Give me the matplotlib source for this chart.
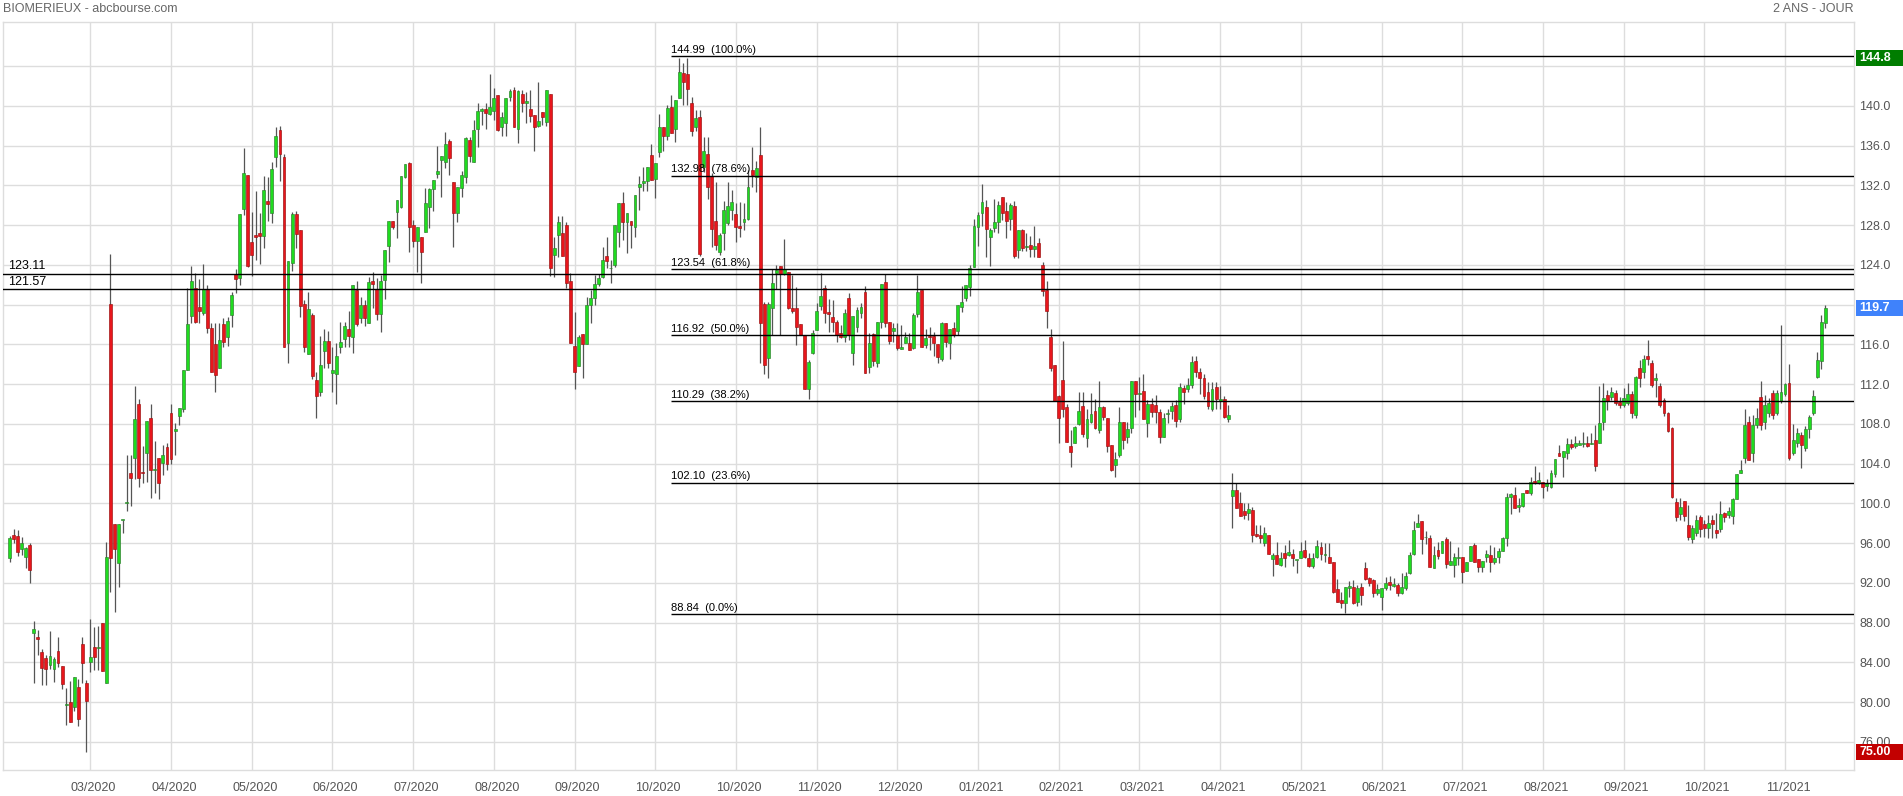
import numpy as np
import matplotlib
matplotlib.use("Agg")
import matplotlib.pyplot as plt
import matplotlib.transforms as mtransforms
from matplotlib.patches import Rectangle

plt.rcParams["font.family"] = ["Liberation Sans", "DejaVu Sans"]

# ── colour palette ────
GRID      = "#dddddd"
TEXT      = "#555555"
WICK      = "#555555"
UP        = "#1fdc1f"
UP_EDGE   = "#2e7d2e"
DOWN      = "#e8161c"
DOWN_EDGE = "#9c1010"
BOX_HIGH  = "#007d00"
BOX_LAST  = "#3f82fb"
BOX_LOW   = "#c20000"

# ── daily candles ────
opens = [
    94.54, 96.82, 96.72, 95.41, 94.64, 95.82, 86.93, 86.6, 85.02, 84.41, 83.74, 83.31, 85.15, 83.64, 79.72, 80.05,
    79.49, 81.5, 85.82, 81.97, 84.08, 85.52, 85.42, 88.0, 81.97, 120.03, 97.9, 94.04, 98.33, 100.01, 103.03, 104.6,
    109.97, 103.2, 105.04, 108.56, 103.36, 104.54, 104.03, 105.64, 109.06, 107.32, 108.83, 109.46, 113.42, 118.85, 121.64, 119.8,
    119.19, 121.54, 117.61, 116.04, 113.59, 118.05, 116.77, 118.95, 123.04, 122.64, 129.58, 133.03, 126.32, 126.99, 127.16, 126.93,
    130.42, 129.17, 134.81, 137.56, 134.87, 116.1, 124.14, 129.07, 127.5, 120.02, 114.99, 118.95, 112.41, 111.23, 115.36, 116.36,
    113.08, 112.98, 115.76, 116.5, 117.54, 116.76, 121.46, 118.61, 119.95, 118.11, 122.37, 121.53, 119.01, 122.47, 125.89, 128.4,
    129.34, 129.84, 132.86, 134.2, 128.0, 126.42, 126.76, 127.33, 129.84, 131.59, 133.1, 134.54, 134.37, 136.45, 132.29, 129.17,
    131.76, 132.87, 136.55, 134.37, 137.63, 139.47, 139.67, 139.17, 139.5, 141.08, 137.83, 138.3, 140.85, 141.58, 137.66, 141.15,
    140.31, 139.67, 139.07, 138.0, 139.34, 138.4, 141.18, 124.98, 126.99, 127.16, 128.0, 122.37, 115.83, 113.85, 117.04, 116.0,
    119.95, 120.69, 122.07, 122.81, 124.92, 123.64, 123.98, 127.26, 130.18, 128.34, 128.4, 127.83, 131.86, 132.19, 132.46, 135.04,
    132.63, 135.31, 137.9, 136.99, 139.91, 137.66, 140.75, 143.26, 143.19, 140.24, 137.83, 138.84, 133.88, 135.2, 132.9, 128.4,
    125.32, 127.23, 128.24, 129.51, 129.11, 127.9, 128.34, 128.6, 133.54, 132.8, 135.05, 120.06, 114.59, 119.69, 123.21, 123.88,
    123.04, 123.31, 119.62, 119.62, 118.05, 116.94, 111.47, 115.09, 117.44, 119.89, 121.7, 119.22, 118.78, 118.28, 117.1, 116.77,
    120.62, 115.09, 117.78, 119.12, 121.23, 113.75, 117.0, 114.08, 118.21, 122.3, 118.21, 117.34, 116.94, 115.53, 116.17, 116.17,
    115.6, 119.02, 121.47, 115.93, 116.87, 116.84, 116.03, 114.49, 118.11, 116.1, 117.61, 117.37, 119.79, 120.63, 121.8, 123.81,
    127.84, 129.25, 129.78, 126.76, 127.74, 128.34, 130.79, 129.41, 128.57, 129.92, 125.49, 127.5, 125.82, 125.99, 125.59, 126.16,
    123.98, 121.47, 116.7, 113.92, 110.8, 112.41, 109.66, 105.77, 106.11, 108.0, 109.79, 106.54, 108.22, 109.33, 107.38, 109.66,
    108.56, 105.87, 103.86, 104.87, 108.22, 106.65, 107.55, 112.31, 110.97, 111.34, 108.05, 110.0, 109.9, 109.16, 106.64, 108.96,
    109.33, 109.9, 108.49, 111.57, 111.47, 111.9, 114.3, 113.2, 112.6, 111.17, 109.49, 111.67, 110.33, 110.47, 108.49, 100.77,
    101.34, 100.0, 99.23, 98.99, 99.33, 96.92, 96.82, 95.98, 96.82, 94.37, 94.8, 93.8, 94.97, 94.8, 94.87, 94.3,
    94.47, 95.31, 94.47, 93.7, 94.57, 95.64, 94.8, 94.64, 94.07, 91.35, 90.28, 89.94, 91.52, 91.62, 90.11, 91.55,
    93.46, 92.46, 92.29, 91.02, 90.61, 91.45, 92.12, 91.68, 91.78, 91.0, 91.45, 92.96, 94.9, 97.65, 98.22, 96.58,
    96.48, 93.46, 95.31, 95.04, 96.38, 93.8, 93.8, 94.47, 94.57, 93.23, 94.23, 95.81, 94.37, 93.56, 94.57, 94.8,
    94.07, 94.64, 95.24, 96.48, 100.67, 100.84, 99.6, 99.73, 101.34, 101.07, 102.25, 102.01, 102.18, 101.74, 101.68, 102.96,
    105.1, 104.63, 105.1, 105.97, 105.81, 105.87, 105.97, 106.11, 105.97, 106.38, 106.11, 108.22, 110.9, 110.73, 111.14, 110.23,
    109.9, 110.1, 111.0, 108.9, 113.59, 113.25, 114.86, 114.09, 112.41, 111.8, 110.4, 109.06, 107.62, 100.11, 98.9, 100.24,
    97.82, 96.38, 97.05, 98.6, 97.89, 97.56, 98.33, 97.32, 97.39, 99.07, 98.83, 98.76, 100.44, 103.02, 104.6, 108.15,
    105.1, 107.88, 110.67, 108.22, 109.06, 111.07, 109.13, 110.3, 111.0, 112.07, 105.03, 106.11, 106.88, 105.54, 107.45, 109.13,
    112.75, 114.32, 118.18,
]
highs = [
    96.7, 97.39, 97.32, 96.59, 95.6, 96.05, 88.17, 87.27, 85.32, 84.75, 87.2, 84.58, 86.59, 83.64, 81.4, 82.17,
    82.5, 82.3, 86.59, 82.23, 88.34, 87.6, 87.67, 88.0, 96.15, 125.09, 97.9, 97.9, 98.33, 104.87, 104.87, 111.81,
    110.47, 105.78, 108.29, 109.97, 106.28, 104.54, 105.88, 106.04, 109.97, 108.12, 109.56, 113.42, 121.7, 123.88, 123.15, 122.54,
    124.09, 121.97, 118.12, 118.12, 118.12, 118.62, 118.79, 121.3, 123.54, 129.07, 135.71, 133.03, 129.34, 131.42, 129.24, 132.93,
    132.86, 134.37, 137.89, 137.96, 135.11, 124.38, 129.34, 129.41, 127.5, 120.46, 121.23, 119.18, 113.25, 116.83, 117.5, 117.34,
    115.69, 116.1, 118.28, 118.28, 119.35, 121.93, 122.37, 120.72, 120.46, 122.8, 123.27, 122.64, 122.97, 125.49, 128.4, 128.4,
    130.51, 132.93, 134.1, 134.37, 128.5, 127.77, 126.76, 131.76, 131.76, 132.53, 135.95, 134.94, 137.39, 136.65, 132.29, 131.86,
    133.43, 136.9, 136.89, 138.57, 140.24, 139.8, 140.24, 143.19, 141.75, 141.08, 139.4, 140.81, 141.65, 141.85, 141.58, 141.58,
    141.42, 141.58, 139.07, 142.35, 139.34, 141.58, 141.18, 126.83, 128.95, 128.95, 128.33, 123.14, 119.28, 116.94, 117.04, 120.79,
    121.47, 122.97, 123.07, 125.82, 126.83, 124.48, 128.0, 130.18, 131.29, 129.17, 128.4, 131.02, 132.96, 133.87, 133.87, 136.12,
    134.2, 139.13, 137.9, 140.07, 141.08, 140.58, 144.8, 144.27, 144.8, 140.92, 139.58, 139.58, 136.9, 136.9, 133.2, 132.37,
    127.2, 130.45, 132.36, 131.52, 130.18, 130.35, 130.25, 133.5, 135.82, 134.4, 137.83, 120.29, 120.29, 123.55, 123.98, 123.88,
    126.56, 123.31, 122.97, 121.8, 118.05, 116.94, 114.42, 117.44, 120.12, 123.14, 121.97, 120.53, 120.46, 118.44, 117.94, 119.52,
    121.13, 118.88, 119.79, 120.12, 121.87, 117.17, 117.17, 118.21, 122.04, 123.07, 118.21, 118.11, 118.18, 117.94, 117.27, 117.17,
    119.12, 122.97, 121.47, 117.54, 117.71, 117.27, 116.03, 118.21, 118.11, 117.51, 118.21, 119.96, 121.87, 121.97, 123.98, 128.57,
    129.31, 132.13, 130.52, 127.74, 130.59, 130.45, 130.79, 130.35, 130.18, 130.45, 127.5, 127.6, 127.23, 126.9, 127.9, 126.73,
    124.32, 122.37, 117.54, 113.92, 110.9, 116.33, 110.0, 107.38, 107.78, 111.17, 111.17, 109.46, 111.07, 110.47, 112.31, 109.79,
    108.56, 105.87, 105.2, 109.66, 108.22, 108.22, 112.31, 112.31, 112.68, 113.02, 110.4, 110.57, 110.9, 109.49, 109.06, 109.46,
    110.23, 110.4, 112.07, 111.91, 112.6, 114.8, 114.8, 113.6, 113.0, 112.24, 112.24, 112.24, 111.81, 110.8, 109.9, 103.02,
    102.01, 101.17, 100.07, 100.07, 99.67, 97.82, 97.82, 97.66, 96.82, 95.04, 96.08, 95.07, 95.81, 96.31, 95.38, 94.3,
    96.15, 96.31, 95.04, 95.04, 96.31, 96.15, 95.98, 95.98, 94.07, 92.36, 91.12, 91.55, 92.19, 92.29, 91.79, 92.02,
    94.13, 92.63, 92.36, 91.89, 91.45, 92.62, 92.69, 92.52, 92.0, 92.96, 93.12, 95.14, 98.26, 98.93, 98.22, 97.25,
    96.81, 95.71, 96.08, 96.21, 96.58, 96.24, 94.97, 95.58, 94.57, 94.13, 95.71, 95.98, 94.37, 94.23, 95.31, 95.81,
    95.64, 95.48, 96.65, 101.07, 101.07, 101.61, 100.5, 101.07, 101.34, 102.68, 103.79, 103.12, 102.18, 102.41, 103.36, 104.43,
    105.87, 105.27, 106.54, 106.48, 106.78, 106.38, 107.21, 106.78, 107.05, 107.88, 111.8, 112.07, 111.4, 111.68, 111.4, 110.75,
    111.57, 112.07, 111.3, 112.8, 114.42, 114.93, 116.43, 114.42, 113.08, 112.07, 110.6, 109.2, 107.68, 100.51, 100.51, 100.24,
    99.84, 97.82, 98.83, 98.83, 98.33, 98.83, 98.83, 99.0, 100.24, 99.17, 99.67, 100.57, 102.96, 104.36, 109.46, 108.79,
    108.89, 109.56, 112.34, 110.9, 110.6, 111.4, 111.4, 117.94, 112.1, 114.02, 107.99, 107.55, 107.2, 107.78, 108.89, 111.4,
    115.26, 118.95, 119.95,
]
lows = [
    94.14, 95.98, 94.71, 94.81, 93.47, 91.96, 81.9, 84.75, 81.73, 81.73, 83.31, 82.07, 83.58, 81.3, 77.71, 77.98,
    79.15, 77.61, 81.97, 75.0, 83.07, 83.24, 83.24, 83.17, 81.97, 91.12, 89.11, 91.62, 96.99, 99.27, 99.77, 102.46,
    101.62, 102.09, 102.19, 100.51, 101.01, 100.41, 102.86, 103.36, 103.97, 104.87, 107.89, 109.23, 113.42, 118.12, 118.12, 118.18,
    118.95, 117.18, 113.25, 111.24, 113.59, 115.77, 115.84, 117.78, 121.13, 121.97, 129.01, 123.81, 122.87, 124.48, 124.04, 125.65,
    128.4, 128.17, 133.87, 132.46, 115.69, 114.15, 123.37, 125.65, 118.78, 115.26, 114.99, 112.47, 108.62, 110.83, 113.58, 113.58,
    111.23, 109.96, 115.09, 115.76, 115.76, 115.16, 117.84, 118.11, 117.87, 118.11, 119.68, 118.44, 117.27, 120.52, 124.31, 127.56,
    126.73, 129.68, 132.76, 125.32, 125.82, 123.31, 122.2, 127.33, 127.66, 129.44, 132.7, 130.85, 133.7, 133.03, 125.82, 128.33,
    130.85, 132.2, 134.37, 134.37, 135.88, 138.06, 137.63, 139.07, 138.57, 137.46, 136.96, 136.96, 140.51, 137.9, 136.29, 139.4,
    138.23, 138.4, 135.48, 137.9, 138.06, 137.96, 122.87, 122.8, 124.81, 124.92, 121.63, 116.17, 111.47, 113.85, 112.58, 116.0,
    118.11, 119.95, 121.87, 122.64, 123.64, 122.2, 123.74, 125.82, 126.49, 125.22, 125.65, 126.76, 129.51, 131.46, 131.46, 132.53,
    130.69, 134.88, 135.48, 136.55, 137.29, 136.38, 140.75, 140.07, 140.08, 136.96, 137.5, 124.9, 133.3, 130.6, 125.8, 125.5,
    125.0, 125.49, 128.0, 128.51, 126.33, 126.76, 127.5, 128.51, 131.86, 131.36, 114.16, 113.02, 112.58, 116.94, 121.53, 116.94,
    122.97, 119.52, 119.19, 115.93, 116.94, 111.47, 110.47, 115.02, 117.44, 119.45, 118.18, 117.27, 117.27, 116.27, 116.6, 116.27,
    116.44, 113.92, 117.27, 118.61, 113.08, 113.15, 113.82, 113.75, 117.61, 117.78, 116.04, 116.27, 115.43, 115.53, 116.1, 115.43,
    115.5, 118.78, 115.76, 115.6, 115.43, 114.83, 114.16, 114.36, 115.76, 114.52, 116.77, 116.94, 119.22, 120.39, 120.9, 123.81,
    125.89, 127.9, 124.82, 123.91, 127.33, 127.23, 128.51, 126.73, 127.5, 124.65, 124.65, 125.42, 125.39, 124.75, 124.75, 124.75,
    120.86, 117.68, 113.35, 110.3, 106.04, 108.66, 106.21, 103.63, 106.11, 107.88, 106.71, 105.64, 108.05, 107.45, 107.11, 108.39,
    105.2, 103.26, 102.62, 104.63, 105.44, 106.04, 107.11, 108.72, 109.39, 108.46, 106.71, 108.72, 108.05, 106.11, 106.64, 108.05,
    108.45, 107.65, 108.22, 110.0, 111.24, 111.6, 112.7, 111.0, 110.5, 109.49, 109.33, 109.49, 109.46, 108.55, 108.22, 97.55,
    99.5, 98.76, 98.39, 98.33, 96.15, 96.65, 95.98, 95.71, 94.87, 92.69, 93.87, 93.7, 93.63, 94.7, 93.7, 93.03,
    94.47, 94.47, 93.63, 93.46, 94.47, 94.3, 94.14, 94.04, 91.02, 90.11, 89.44, 89.0, 90.61, 89.84, 89.68, 89.77,
    92.29, 91.72, 90.61, 90.78, 89.27, 91.28, 91.28, 91.62, 90.7, 90.9, 91.28, 92.89, 94.8, 97.59, 94.9, 95.91,
    93.63, 93.46, 94.37, 95.04, 93.46, 93.8, 92.62, 93.8, 91.95, 93.23, 94.23, 94.07, 93.12, 93.12, 94.13, 93.12,
    93.9, 93.97, 95.24, 95.71, 98.93, 99.5, 99.09, 99.6, 101.0, 100.84, 101.94, 101.94, 100.57, 101.27, 101.51, 102.62,
    104.77, 102.62, 104.43, 105.47, 105.6, 105.87, 105.71, 105.71, 105.97, 103.26, 106.11, 107.4, 109.4, 110.4, 109.9, 109.6,
    109.7, 109.9, 108.6, 108.56, 111.74, 112.58, 113.92, 111.74, 110.73, 109.7, 108.8, 107.2, 100.57, 98.26, 98.33, 98.26,
    96.32, 96.05, 96.72, 96.65, 96.65, 96.48, 96.48, 96.48, 97.15, 98.16, 98.5, 97.92, 100.44, 103.02, 104.1, 104.36,
    104.2, 107.55, 107.4, 107.5, 108.7, 108.5, 108.9, 110.1, 110.8, 104.4, 104.87, 105.7, 103.59, 105.3, 106.54, 108.9,
    112.58, 113.48, 117.67,
]
closes = [
    96.49, 96.42, 95.15, 95.98, 95.48, 93.3, 87.4, 86.33, 83.41, 83.31, 84.65, 84.31, 83.98, 81.8, 79.72, 77.98,
    82.5, 78.28, 83.98, 80.15, 84.51, 84.51, 85.42, 83.17, 94.64, 94.54, 95.38, 97.9, 98.33, 100.17, 102.59, 108.46,
    102.52, 103.03, 108.29, 103.36, 103.36, 102.02, 104.87, 103.97, 104.43, 107.45, 109.56, 113.42, 118.02, 122.38, 118.28, 119.39,
    121.54, 117.68, 113.25, 112.92, 116.44, 116.27, 118.35, 120.97, 122.53, 129.07, 133.27, 123.88, 124.98, 126.83, 126.93, 131.52,
    130.08, 133.6, 136.99, 135.11, 115.69, 124.38, 129.07, 127.06, 119.89, 115.69, 119.55, 112.84, 110.83, 113.92, 116.36, 114.08,
    113.42, 114.82, 116.23, 117.84, 116.83, 121.93, 118.04, 119.95, 118.61, 122.23, 122.03, 119.01, 122.37, 125.49, 128.4, 127.83,
    130.51, 132.93, 134.1, 127.83, 126.42, 127.77, 125.32, 130.18, 131.59, 132.53, 133.43, 134.94, 136.12, 134.77, 129.24, 131.86,
    133.03, 136.72, 134.94, 137.56, 139.47, 139.64, 139.3, 139.91, 140.81, 137.56, 138.83, 140.81, 141.48, 137.9, 141.48, 140.31,
    140.48, 139.0, 137.9, 138.47, 138.84, 141.58, 123.71, 125.65, 128.33, 124.92, 122.2, 116.17, 113.18, 116.7, 116.0, 119.95,
    120.69, 122.07, 122.64, 124.48, 124.41, 123.64, 128.0, 130.18, 128.34, 129.17, 128.0, 131.02, 132.12, 132.43, 133.87, 132.53,
    134.2, 137.9, 136.96, 139.8, 137.29, 140.58, 143.36, 142.42, 141.68, 137.45, 138.74, 125.05, 135.45, 131.86, 127.6, 126.0,
    127.0, 129.51, 129.92, 130.35, 127.77, 127.74, 128.6, 131.86, 133.03, 133.7, 118.11, 113.92, 120.06, 122.14, 123.48, 123.04,
    123.55, 119.62, 119.39, 117.78, 116.94, 111.47, 114.25, 117.17, 119.35, 120.86, 119.12, 119.02, 118.28, 116.94, 116.7, 119.19,
    116.94, 118.88, 119.45, 119.79, 113.08, 116.1, 114.32, 118.21, 122.04, 118.18, 116.37, 117.61, 115.6, 115.76, 116.71, 115.43,
    118.95, 121.3, 115.76, 116.6, 116.77, 116.17, 114.69, 118.11, 116.27, 117.51, 116.94, 119.96, 120.26, 121.97, 123.64, 127.9,
    128.98, 130.35, 127.57, 127.5, 128.34, 130.02, 129.25, 128.44, 130.02, 124.88, 127.5, 125.72, 125.82, 125.56, 125.89, 124.75,
    121.4, 119.39, 113.65, 110.3, 108.56, 109.46, 106.21, 105.2, 107.65, 109.29, 106.95, 108.46, 108.96, 107.55, 109.66, 108.66,
    105.77, 103.36, 104.43, 108.22, 106.38, 107.45, 112.31, 110.97, 110.97, 108.46, 110.0, 109.22, 109.22, 106.64, 108.55, 108.96,
    109.8, 108.32, 111.67, 111.24, 111.91, 114.2, 113.2, 112.6, 110.83, 109.83, 111.47, 110.47, 110.47, 108.65, 108.89, 101.34,
    99.5, 98.76, 98.83, 99.4, 96.82, 96.72, 96.48, 96.98, 94.87, 94.8, 93.87, 94.47, 94.47, 95.07, 94.47, 94.3,
    95.24, 94.64, 93.7, 94.47, 95.71, 94.91, 94.8, 94.04, 91.12, 90.11, 89.94, 91.55, 91.69, 89.94, 91.45, 90.78,
    92.39, 91.95, 90.95, 91.35, 91.45, 92.02, 91.78, 91.88, 91.0, 91.62, 92.69, 94.8, 97.32, 97.99, 96.41, 96.58,
    93.63, 94.8, 94.73, 96.21, 93.87, 94.2, 94.64, 94.47, 93.12, 94.13, 95.71, 94.07, 93.56, 94.23, 94.9, 94.07,
    94.47, 95.24, 96.48, 100.61, 100.94, 99.5, 99.84, 101.0, 101.0, 102.18, 102.01, 102.35, 101.68, 102.01, 103.02, 104.43,
    104.8, 105.27, 105.94, 105.71, 106.11, 106.11, 106.11, 105.81, 106.11, 103.79, 108.05, 110.63, 110.3, 111.24, 110.07, 109.9,
    110.6, 111.0, 109.06, 112.68, 112.58, 114.49, 114.49, 111.91, 112.64, 109.9, 109.06, 107.31, 100.67, 98.66, 99.6, 98.73,
    96.65, 97.56, 98.33, 97.39, 97.56, 98.06, 97.92, 97.05, 98.93, 98.6, 99.23, 100.44, 102.96, 103.36, 107.88, 104.36,
    107.88, 108.56, 107.88, 109.9, 110.06, 108.89, 111.07, 111.17, 112.01, 104.6, 106.38, 107.05, 105.87, 107.45, 108.72, 110.8,
    114.42, 118.28, 119.7,
]

# one label every 20 sessions, as on the site
tick_labels = [
    "03/2020", "04/2020", "05/2020", "06/2020", "07/2020", "08/2020", "09/2020", "10/2020",
    "10/2020", "11/2020", "12/2020", "01/2021", "02/2021", "03/2021", "04/2021", "05/2021",
    "06/2021", "07/2021", "08/2021", "09/2021", "10/2021", "11/2021",
]

# fibonacci retracement levels and the two support lines
fib_levels = [144.99, 132.98, 123.54, 116.92, 110.29, 102.10, 88.84]
fib_pcts   = [100.0, 78.6, 61.8, 50.0, 38.2, 23.6, 0.0]
support_levels = [123.11, 121.57]


def price_label(v):
    return f"{v:.1f}" if v >= 100 else f"{v:.2f}"


def draw_chart():
    o = np.array(opens)
    h = np.array(highs)
    l = np.array(lows)
    c = np.array(closes)
    idx = np.arange(len(c))

    W, H_PX = 1903, 796
    fig = plt.figure(figsize=(W / 100, H_PX / 100), dpi=100)
    fig.patch.set_facecolor("white")
    ax = fig.add_axes([3 / W, 1 - 770 / H_PX, (1854 - 3) / W, (770 - 22) / H_PX])

    x_left, x_right = -1.64, 457.1
    ax.set_xlim(x_left, x_right)
    ax.set_ylim(73.18, 148.43)

    # ── grid & frame ────
    ax.set_yticks(np.arange(76, 145, 4))
    ax.set_xticks(np.arange(20, 20 * (len(tick_labels) + 1), 20))
    ax.grid(color=GRID, linewidth=1.0)
    ax.set_axisbelow(True)
    for spine in ax.spines.values():
        spine.set_edgecolor(GRID)
        spine.set_linewidth(1.0)

    ax.yaxis.tick_right()
    ax.set_yticklabels(["" if v == 144 else price_label(v) for v in np.arange(76, 145, 4)])
    ax.tick_params(axis="y", length=0, pad=3.6, labelsize=9, labelcolor=TEXT)
    ax.set_xticklabels(tick_labels)
    ax.tick_params(axis="x", length=0, pad=8.5, labelsize=9, labelcolor=TEXT)
    shift = mtransforms.ScaledTranslation(3 / 100, 0, fig.dpi_scale_trans)
    for lab in ax.get_xticklabels():
        lab.set_transform(lab.get_transform() + shift)

    # ── candles ────
    ax.vlines(idx, l, h, color=WICK, linewidth=0.9, zorder=2)
    bottom = np.minimum(o, c)
    height = np.maximum(np.abs(c - o), 0.09)
    up = c >= o
    ax.bar(idx[up], height[up], bottom=bottom[up], width=0.72,
           color=UP, edgecolor=UP_EDGE, linewidth=0.45, zorder=3)
    ax.bar(idx[~up], height[~up], bottom=bottom[~up], width=0.72,
           color=DOWN, edgecolor=DOWN_EDGE, linewidth=0.45, zorder=3)

    # ── fibonacci lines ────
    fib_start = 163.9
    ax.hlines(fib_levels, fib_start, x_right, color="black", linewidth=1.0, zorder=4)
    for lvl, pct in zip(fib_levels, fib_pcts):
        ax.text(fib_start, lvl + 0.12, f"{lvl:.2f}  ({pct:.1f}%)",
                fontsize=8, color="black", ha="left", va="bottom", zorder=6)

    for lvl in support_levels:
        ax.axhline(lvl, color="black", linewidth=1.0, zorder=4)
        ax.text(-0.4, lvl + 0.15, f"{lvl:.2f}", fontsize=9, color="black",
                ha="left", va="bottom", zorder=6)

    # ── price boxes on the right axis ────
    blend = mtransforms.blended_transform_factory(fig.transFigure, ax.transData)
    box_h = 1.61
    for val, col in [(h.max(), BOX_HIGH), (c[-1], BOX_LAST), (l.min(), BOX_LOW)]:
        ax.add_patch(Rectangle((1856 / W, val - box_h / 2), 47 / W, box_h,
                               transform=blend, facecolor=col, edgecolor="none",
                               clip_on=False, zorder=7))
        ax.text(1859 / W, val, price_label(val), transform=blend, color="white",
                fontsize=9, fontweight="bold", ha="left", va="center",
                clip_on=False, zorder=8)

    # ── header ────
    fig.text(3 / W, 1 - 9 / H_PX, "BIOMERIEUX - abcbourse.com", fontsize=9,
             color="#666666", ha="left", va="center")
    fig.text(1854 / W, 1 - 9 / H_PX, "2 ANS - JOUR", fontsize=9,
             color="#666666", ha="right", va="center")

    fig.savefig("out.png", dpi=100, facecolor="white")


draw_chart()
